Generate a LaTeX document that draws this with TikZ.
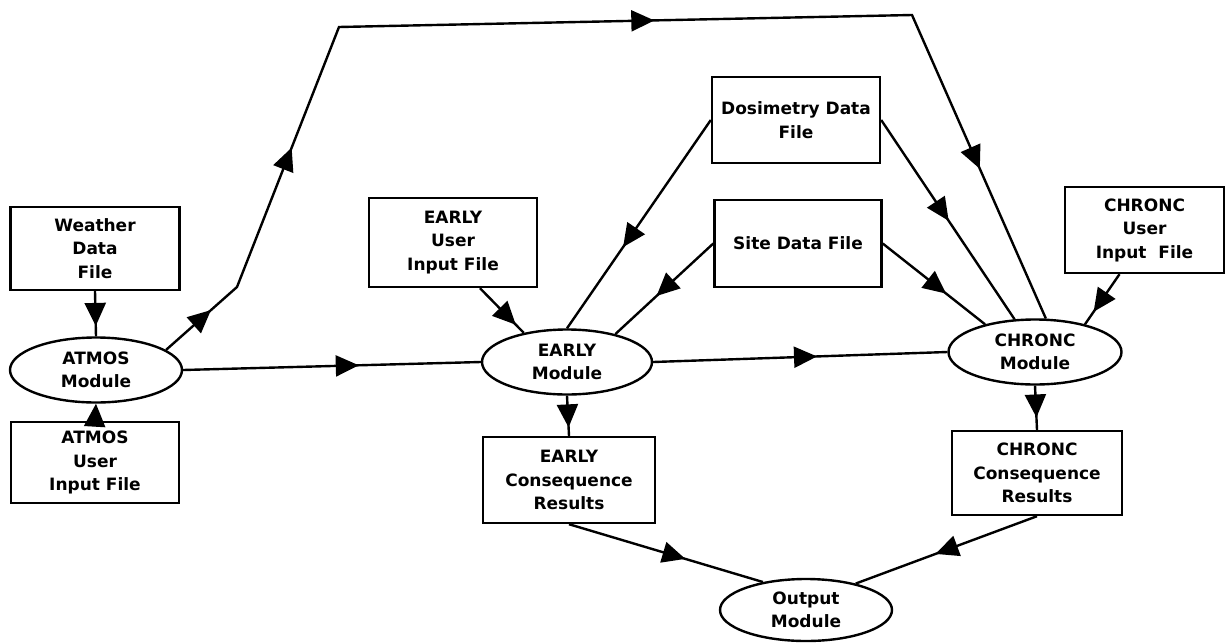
\documentclass[tikz,border=0pt]{standalone}
\usepackage{fontspec}
\setmainfont{DejaVu Sans}
\usetikzlibrary{shapes.geometric,arrows.meta,decorations.markings}
\begin{document}
\begin{tikzpicture}[x=1pt,y=-1pt,
  BigTri/.tip={Triangle[length=23pt,width=21pt]},
  conn/.style={line width=2.4pt},
  txt/.style={align=center,inner sep=0pt,font=\bfseries\fontsize{17pt}{23.5pt}\selectfont},
  filebox/.style={txt,draw,line width=2.4pt,rectangle},
  module/.style={txt,draw,line width=2.4pt,ellipse,minimum width=172pt,minimum height=65pt},
  arrowat/.style={postaction={decorate,decoration={markings,mark=at position #1 with {\arrow{BigTri}}}}}
]
\useasboundingbox[fill=white] (0,0) rectangle (1228,643);

% file boxes
\node[filebox,minimum width=169pt,minimum height=83pt] (weather) at (95,248.5) {Weather\\Data\\File};
\node[filebox,minimum width=168pt,minimum height=81pt] (atmosin) at (95,462.5) {ATMOS\\User\\Input File};
\node[filebox,minimum width=168pt,minimum height=89pt] (earlyin) at (453,242.5) {EARLY\\User\\Input File};
\node[filebox,minimum width=168pt,minimum height=86pt] (dos) at (796,120) {Dosimetry Data\\File};
\node[filebox,minimum width=167pt,minimum height=87pt] (site) at (798,243.5) {Site Data File};
\node[filebox,minimum width=159pt,minimum height=86pt] (chroncin) at (1144.5,230) {CHRONC\\User\\Input\ \ File};
\node[filebox,minimum width=172pt,minimum height=86pt] (earlycons) at (569,480) {EARLY\\Consequence\\Results};
\node[filebox,minimum width=170pt,minimum height=84pt] (chronccons) at (1037,473) {CHRONC\\Consequence\\Results};

% modules
\node[module] (atmos) at (96,370) {ATMOS\\Module};
\node[module,minimum width=170pt] (early) at (567,362) {EARLY\\Module};
\node[module,minimum width=173pt] (chronc) at (1035,352) {CHRONC\\Module};
\node[module,minimum height=62pt] (output) at (806,610) {Output\\Module};

% bend points of the upper path
\coordinate (b1) at (237,287);
\coordinate (b2) at (339,27);
\coordinate (b3) at (912,15);

% connectors
\draw[conn,arrowat=0.77] (weather.south) -- (atmos.north);
\draw[conn,-{BigTri}] (atmosin.north) -- (atmos.south);
\draw[conn,arrowat=0.047,arrowat=0.191,arrowat=0.539,arrowat=0.872]
  (atmos.16) -- (b1) -- (b2) -- (b3) -- (chronc.72);
\draw[conn,arrowat=0.59] (atmos.east) -- (early.west);
\draw[conn,arrowat=0.557] (early.east) -- (chronc.west);
\draw[conn,arrowat=0.82] ([xshift=27pt]earlyin.south) -- (early.146);
\draw[conn,arrowat=0.61] (dos.west) -- (early.north);
\draw[conn,arrowat=0.58] (site.west) -- (early.30);
\draw[conn,arrowat=0.506] (dos.east) -- (chronc.122);
\draw[conn,arrowat=0.62] (site.east) -- (chronc.151);
\draw[conn,arrowat=0.75] ([xshift=-25pt]chroncin.south) -- (chronc.29);
\draw[conn,arrowat=0.79] (early.south) -- (earlycons.north);
\draw[conn,arrowat=0.72] (chronc.south) -- (chronccons.north);
\draw[conn,arrowat=0.6] (earlycons.south) -- (output.147);
\draw[conn,arrowat=0.56] (chronccons.south) -- (output.28);
\end{tikzpicture}
\end{document}
